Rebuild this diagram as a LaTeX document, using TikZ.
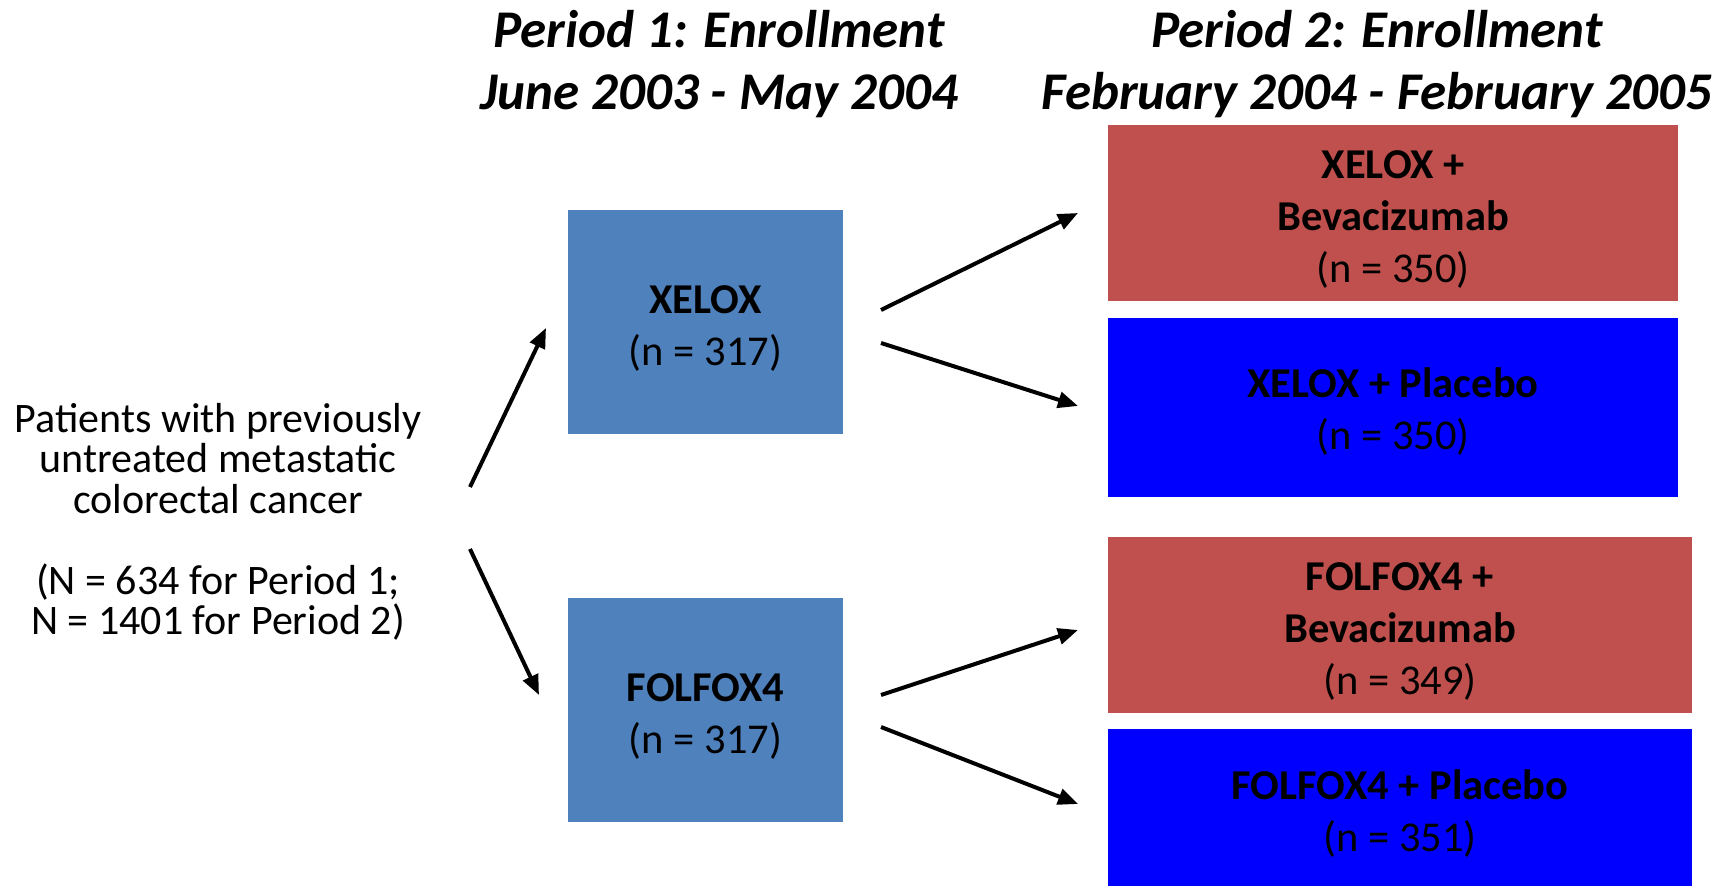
\documentclass[tikz,border=0pt]{standalone}
\usepackage{fontspec}
\setmainfont{Carlito}
\usetikzlibrary{arrows.meta}
\definecolor{boxsteel}{HTML}{4F81BD}
\definecolor{boxred}{HTML}{C0504D}
\definecolor{boxblue}{HTML}{0000FF}
\newcommand{\tstrut}{\rule{0pt}{41pt}}
\tikzset{
  armbox/.style={rectangle, inner sep=0pt, align=center, font=\fontsize{42.5}{52}\selectfont},
  steelbox/.style={armbox, fill=boxsteel, minimum width=275pt, minimum height=224pt},
  redbox/.style={armbox, fill=boxred},
  bluebox/.style={armbox, fill=boxblue},
  heading/.style={inner sep=0pt, align=center, font=\fontsize{53}{62}\selectfont\bfseries\itshape},
  flowarrow/.style={line width=4pt, -{Triangle[length=20pt,width=16pt]}}
}
\begin{document}
\begin{tikzpicture}[x=1pt,y=-1pt]
\useasboundingbox (0,0) rectangle (1734,886);
% headings
\node[heading] (h1) at (719,64) {Period 1: Enrollment\\June 2003 - May 2004};
\node[heading] (h2) at (1377,64) {Period 2: Enrollment\\February 2004 - February 2005};
% left text
\node[inner sep=0pt, align=center, font=\fontsize{42}{40.5}\selectfont] (pat) at (218,522)
  {Patients with previously\\untreated metastatic\\colorectal cancer\\[40.5pt](N = 634 for Period 1;\\N = 1401 for Period 2)};
% period 1 boxes
\node[steelbox] (xelox) at (705.5,322) {\tstrut\textbf{XELOX}\\(n = 317)};
\node[steelbox] (folfox) at (705.5,710) {\tstrut\textbf{FOLFOX4}\\(n = 317)};
% period 2 boxes
\node[redbox, minimum width=570pt, minimum height=176pt] (xbev) at (1393,213) {\tstrut\textbf{XELOX +}\\\textbf{Bevacizumab}\\(n = 350)};
\node[bluebox, minimum width=570pt, minimum height=179pt] (xpla) at (1393,407.5) {\rule{0pt}{38pt}\textbf{XELOX + Placebo}\\(n = 350)};
\node[redbox, minimum width=584pt, minimum height=176pt] (fbev) at (1400,625) {\tstrut\textbf{FOLFOX4 +}\\\textbf{Bevacizumab}\\(n = 349)};
\node[bluebox, minimum width=584pt, minimum height=157pt] (fpla) at (1400,807.5) {\tstrut\textbf{FOLFOX4 + Placebo}\\(n = 351)};
% arrow end points
\coordinate (p1s) at (470,487);
\coordinate (p1e) at (546,328);
\coordinate (p2s) at (470,549);
\coordinate (p2e) at (539,695);
\coordinate (x1s) at (881,310);
\coordinate (x1e) at (1078,213);
\coordinate (x2s) at (881,343);
\coordinate (x2e) at (1078,406);
\coordinate (f1s) at (881,695);
\coordinate (f1e) at (1078,630);
\coordinate (f2s) at (881,727);
\coordinate (f2e) at (1078,804);
\draw[flowarrow] (p1s) -- (p1e);
\draw[flowarrow] (p2s) -- (p2e);
\draw[flowarrow] (x1s) -- (x1e);
\draw[flowarrow] (x2s) -- (x2e);
\draw[flowarrow] (f1s) -- (f1e);
\draw[flowarrow] (f2s) -- (f2e);
\end{tikzpicture}
\end{document}
